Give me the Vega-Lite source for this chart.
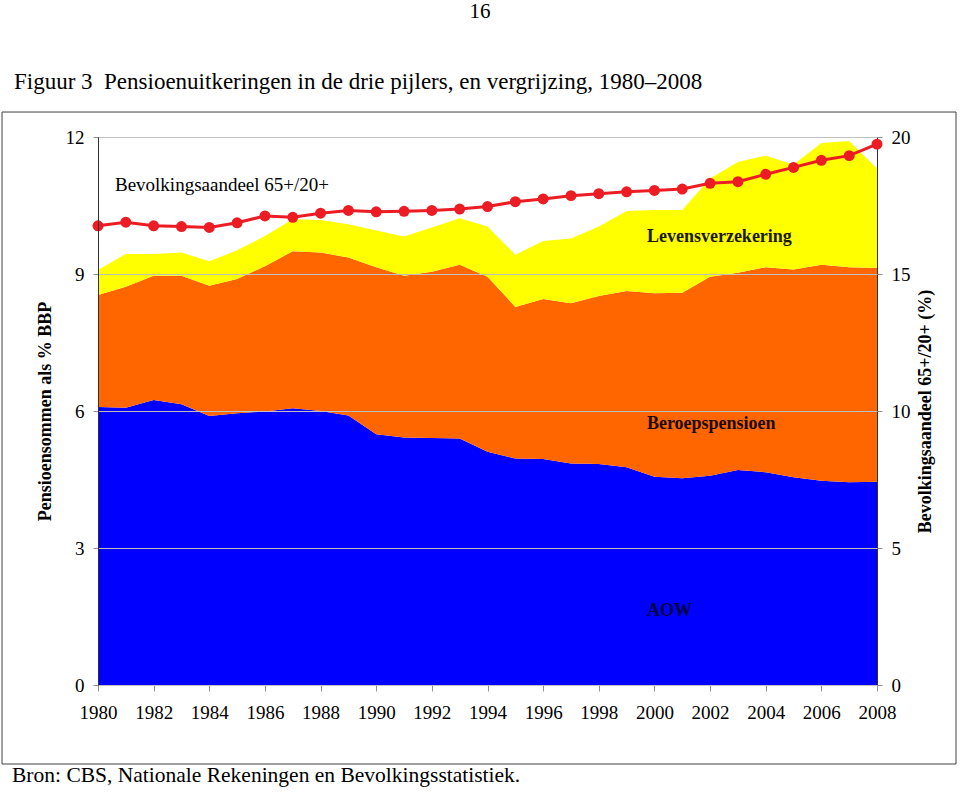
{
  "$schema": "https://vega.github.io/schema/vega-lite/v6.json",
  "width": 779,
  "height": 548,
  "autosize": {"type": "none"},
  "padding": {"left": 98, "top": 137, "right": 83, "bottom": 107},
  "background": "white",
  "config": {
    "font": "Liberation Serif",
    "view": {"stroke": "#404040", "strokeWidth": 1},
    "axis": {"labelFont": "Liberation Serif", "titleFont": "Liberation Serif", "labelColor": "black", "titleColor": "black", "labelFontSize": 19, "titleFontSize": 18, "titleFontWeight": "bold"}
  },
  "data": {
    "values": [
      {"year": 1980, "AOW": 6.09, "Beroepspensioen": 2.45, "Levensverzekering": 0.55, "ratio": 16.76},
      {"year": 1981, "AOW": 6.07, "Beroepspensioen": 2.65, "Levensverzekering": 0.72, "ratio": 16.89},
      {"year": 1982, "AOW": 6.24, "Beroepspensioen": 2.72, "Levensverzekering": 0.48, "ratio": 16.76},
      {"year": 1983, "AOW": 6.15, "Beroepspensioen": 2.81, "Levensverzekering": 0.51, "ratio": 16.73},
      {"year": 1984, "AOW": 5.89, "Beroepspensioen": 2.85, "Levensverzekering": 0.54, "ratio": 16.70},
      {"year": 1985, "AOW": 5.95, "Beroepspensioen": 2.94, "Levensverzekering": 0.63, "ratio": 16.87},
      {"year": 1986, "AOW": 5.99, "Beroepspensioen": 3.18, "Levensverzekering": 0.66, "ratio": 17.12},
      {"year": 1987, "AOW": 6.06, "Beroepspensioen": 3.44, "Levensverzekering": 0.70, "ratio": 17.07},
      {"year": 1988, "AOW": 6.00, "Beroepspensioen": 3.47, "Levensverzekering": 0.71, "ratio": 17.22},
      {"year": 1989, "AOW": 5.90, "Beroepspensioen": 3.46, "Levensverzekering": 0.73, "ratio": 17.32},
      {"year": 1990, "AOW": 5.49, "Beroepspensioen": 3.66, "Levensverzekering": 0.80, "ratio": 17.27},
      {"year": 1991, "AOW": 5.42, "Beroepspensioen": 3.54, "Levensverzekering": 0.86, "ratio": 17.29},
      {"year": 1992, "AOW": 5.41, "Beroepspensioen": 3.64, "Levensverzekering": 0.97, "ratio": 17.32},
      {"year": 1993, "AOW": 5.40, "Beroepspensioen": 3.80, "Levensverzekering": 1.02, "ratio": 17.37},
      {"year": 1994, "AOW": 5.11, "Beroepspensioen": 3.83, "Levensverzekering": 1.10, "ratio": 17.46},
      {"year": 1995, "AOW": 4.96, "Beroepspensioen": 3.32, "Levensverzekering": 1.14, "ratio": 17.64},
      {"year": 1996, "AOW": 4.95, "Beroepspensioen": 3.50, "Levensverzekering": 1.27, "ratio": 17.74},
      {"year": 1997, "AOW": 4.85, "Beroepspensioen": 3.51, "Levensverzekering": 1.42, "ratio": 17.86},
      {"year": 1998, "AOW": 4.84, "Beroepspensioen": 3.68, "Levensverzekering": 1.52, "ratio": 17.93},
      {"year": 1999, "AOW": 4.77, "Beroepspensioen": 3.86, "Levensverzekering": 1.75, "ratio": 18.00},
      {"year": 2000, "AOW": 4.56, "Beroepspensioen": 4.02, "Levensverzekering": 1.82, "ratio": 18.05},
      {"year": 2001, "AOW": 4.53, "Beroepspensioen": 4.06, "Levensverzekering": 1.81, "ratio": 18.10},
      {"year": 2002, "AOW": 4.58, "Beroepspensioen": 4.36, "Levensverzekering": 2.15, "ratio": 18.31},
      {"year": 2003, "AOW": 4.71, "Beroepspensioen": 4.32, "Levensverzekering": 2.42, "ratio": 18.37},
      {"year": 2004, "AOW": 4.66, "Beroepspensioen": 4.49, "Levensverzekering": 2.44, "ratio": 18.64},
      {"year": 2005, "AOW": 4.55, "Beroepspensioen": 4.55, "Levensverzekering": 2.30, "ratio": 18.89},
      {"year": 2006, "AOW": 4.47, "Beroepspensioen": 4.73, "Levensverzekering": 2.67, "ratio": 19.15},
      {"year": 2007, "AOW": 4.44, "Beroepspensioen": 4.71, "Levensverzekering": 2.76, "ratio": 19.32},
      {"year": 2008, "AOW": 4.45, "Beroepspensioen": 4.68, "Levensverzekering": 2.18, "ratio": 19.74}
    ]
  },
  "layer": [
    {
      "layer": [
        {
          "transform": [{"fold": ["AOW", "Beroepspensioen", "Levensverzekering"], "as": ["pijler", "value"]}],
          "mark": {"type": "area", "interpolate": "linear"},
          "encoding": {
            "x": {"field": "year", "type": "quantitative", "scale": {"domain": [1980, 2008], "nice": false, "zero": false},
              "axis": {"values": [1980,1981,1982,1983,1984,1985,1986,1987,1988,1989,1990,1991,1992,1993,1994,1995,1996,1997,1998,1999,2000,2001,2002,2003,2004,2005,2006,2007,2008],
                "format": "d", "labelExpr": "datum.value % 2 == 0 ? datum.label : ''", "title": null, "grid": false,
                "domainColor": "#909090", "tickColor": "#909090", "tickSize": 6, "labelPadding": 12, "labelFlush": false, "labelOverlap": false}},
            "y": {"field": "value", "type": "quantitative", "stack": "zero", "scale": {"domain": [0, 12], "nice": false},
              "axis": {"values": [0, 3, 6, 9, 12], "title": "Pensioensommen als % BBP", "titleX": -53, "titleY": 274, "titleAngle": -90, "titleBaseline": "middle", "titleAlign": "center",
                "grid": true, "gridColor": "#c0c0c0", "gridWidth": 1, "domainColor": "#303030", "tickColor": "#909090", "tickSize": 5, "labelPadding": 9, "zindex": 1}},
            "color": {"field": "pijler", "type": "nominal", "scale": {"domain": ["AOW", "Beroepspensioen", "Levensverzekering"], "range": ["#0000FF", "#FF6600", "#FFFF00"]}, "legend": null},
            "order": {"field": "pijler", "sort": "ascending"}
          }
        },
        {
          "data": {"values": [{}]},
          "mark": {"type": "text", "text": "Bevolkingsaandeel 65+/20+", "align": "left", "baseline": "middle", "fontSize": 19, "font": "Liberation Serif", "color": "black"},
          "encoding": {"x": {"datum": 1980.61, "type": "quantitative"}, "y": {"datum": 10.95, "type": "quantitative"}}
        },
        {
          "data": {"values": [{}]},
          "mark": {"type": "text", "text": "Levensverzekering", "align": "left", "baseline": "middle", "fontSize": 18, "fontWeight": "bold", "font": "Liberation Serif", "color": "#1a1a00"},
          "encoding": {"x": {"datum": 1999.73, "type": "quantitative"}, "y": {"datum": 9.81, "type": "quantitative"}}
        },
        {
          "data": {"values": [{}]},
          "mark": {"type": "text", "text": "Beroepspensioen", "align": "left", "baseline": "middle", "fontSize": 18, "fontWeight": "bold", "font": "Liberation Serif", "color": "#1a0a00"},
          "encoding": {"x": {"datum": 1999.73, "type": "quantitative"}, "y": {"datum": 5.715, "type": "quantitative"}}
        },
        {
          "data": {"values": [{}]},
          "mark": {"type": "text", "text": "AOW", "align": "left", "baseline": "middle", "fontSize": 18, "fontWeight": "bold", "font": "Liberation Serif", "color": "#000040"},
          "encoding": {"x": {"datum": 1999.73, "type": "quantitative"}, "y": {"datum": 1.62, "type": "quantitative"}}
        },
        {
          "data": {"values": [{}]},
          "mark": {"type": "text", "text": "16", "align": "center", "baseline": "middle", "fontSize": 21, "font": "Liberation Serif", "color": "black"},
          "encoding": {"x": {"datum": 1993.73, "type": "quantitative"}, "y": {"datum": 14.74, "type": "quantitative"}}
        },
        {
          "data": {"values": [{}]},
          "mark": {"type": "text", "text": "Figuur 3\u00a0 Pensioenuitkeringen in de drie pijlers, en vergrijzing, 1980\u20132008", "align": "left", "baseline": "middle", "fontSize": 23, "font": "Liberation Serif", "color": "black"},
          "encoding": {"x": {"datum": 1976.98, "type": "quantitative"}, "y": {"datum": 13.2, "type": "quantitative"}}
        },
        {
          "data": {"values": [{}]},
          "mark": {"type": "text", "text": "Bron: CBS, Nationale Rekeningen en Bevolkingsstatistiek.", "align": "left", "baseline": "middle", "fontSize": 21.5, "font": "Liberation Serif", "color": "black"},
          "encoding": {"x": {"datum": 1976.91, "type": "quantitative"}, "y": {"datum": -1.99, "type": "quantitative"}}
        },
        {
          "data": {"values": [{}]},
          "mark": {"type": "rect", "fill": "white", "fillOpacity": 0, "stroke": "#404040", "strokeWidth": 1},
          "encoding": {
            "x": {"datum": 1976.55, "type": "quantitative"}, "x2": {"datum": 2010.84},
            "y": {"datum": 12.547, "type": "quantitative"}, "y2": {"datum": -1.73}
          }
        }
      ]
    },
    {
      "layer": [
        {
          "mark": {"type": "line", "color": "#EC1C24", "strokeWidth": 3},
          "encoding": {
            "x": {"field": "year", "type": "quantitative"},
            "y": {"field": "ratio", "type": "quantitative", "scale": {"domain": [0, 20], "nice": false},
              "axis": {"orient": "right", "values": [0, 5, 10, 15, 20], "title": "Bevolkingsaandeel 65+/20+ (%)", "titleX": 48, "titleY": 274, "titleAngle": -90, "titleBaseline": "middle", "titleAlign": "center",
                "grid": false, "domainColor": "#303030", "tickColor": "#909090", "tickSize": 5, "labelPadding": 9}}
          }
        },
        {
          "mark": {"type": "point", "filled": true, "color": "#EC1C24", "opacity": 1, "size": 120},
          "encoding": {
            "x": {"field": "year", "type": "quantitative"},
            "y": {"field": "ratio", "type": "quantitative"}
          }
        }
      ]
    }
  ],
  "resolve": {"scale": {"y": "independent"}}
}
